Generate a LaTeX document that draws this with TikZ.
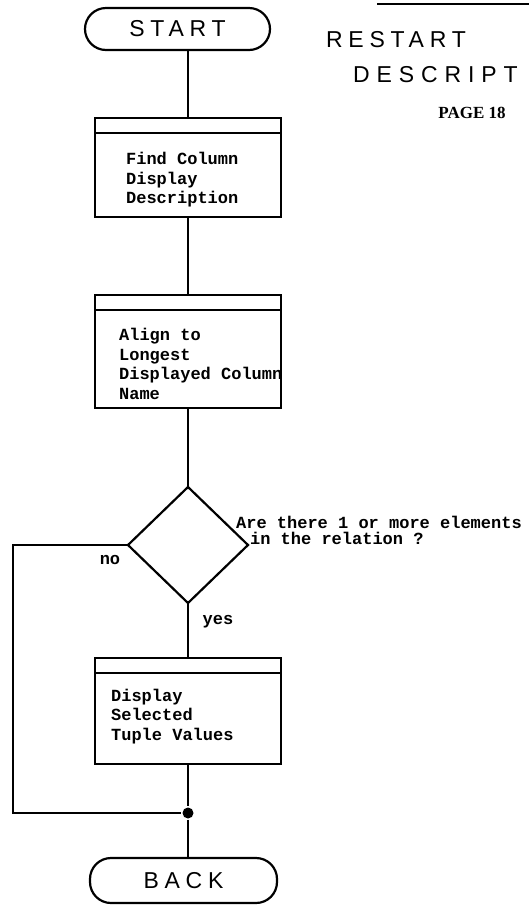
\documentclass[tikz,border=0pt]{standalone}
\usepackage{fontspec}
\setmainfont{Liberation Serif}
\newfontfamily\letterfont{Liberation Sans}[LetterSpace=25]
\newfontfamily\typefont{Liberation Mono}
\usetikzlibrary{shapes.geometric}

\begin{document}
\begin{tikzpicture}[x=1pt, y=-1pt, line width=2.2pt,
  term/.style={draw, rounded corners=21pt, minimum width=185pt,
               minimum height=42pt, inner sep=0pt, outer sep=0pt,
               font=\letterfont\fontsize{23}{25}\selectfont},
  proc/.style={draw, minimum width=186pt, inner sep=0pt, outer sep=0pt},
  txt/.style={align=left, inner sep=0pt,
              font=\typefont\bfseries\fontsize{17}{19.5}\selectfont},
  ask/.style={draw, diamond, minimum width=120pt, minimum height=116pt,
              inner sep=0pt, outer sep=0pt},
  dot/.style={circle, fill, inner sep=0pt, minimum size=11pt}]
\useasboundingbox (0,0) rectangle (529,906);
% --- page heading ---
\draw (377,4) -- (529,4);
\node[anchor=west, inner sep=0pt, font=\letterfont\fontsize{23}{25}\selectfont]
  (title1) at (325,40) {RESTART};
\node[anchor=west, inner sep=0pt,
      font=\letterfont\fontsize{23}{25}\selectfont\addfontfeatures{LetterSpace=30}]
  (title2) at (352,75) {DESCRIPT};
\node[inner sep=0pt, font=\bfseries\fontsize{17}{20}\selectfont]
  (page) at (472,113) {PAGE 18};
% --- terminals ---
\node[term] (start) at (177.5,29) {START};
\node[term, minimum width=187pt, minimum height=45pt] (back) at (183.5,880.5) {BACK};
% --- process boxes ---
\node[proc, minimum height=84pt] (find) at (188,175) {};
\node[proc, minimum height=98pt] (align) at (188,359) {};
\node[proc, minimum height=91pt] (show) at (188,718.5) {};
\foreach \n in {find,align,show}
  \draw (\n.north west) rectangle ([yshift=15pt]\n.north east);
\node[txt, anchor=west] (findtxt) at (125,180) {Find Column\\Display\\Description};
\node[txt, anchor=west] (aligntxt) at (118,364)
  {Align to\\Longest\\Displayed Column\\Name};
\node[txt, anchor=west] (showtxt) at (110,716.5) {Display\\Selected\\Tuple Values};
% --- decision ---
\node[ask] (query) at (188,545) {};
\node[txt, anchor=west, font=\typefont\bfseries\fontsize{17}{15.5}\selectfont]
  (querytxt) at (235,530.5)
  {Are there 1 or more elements\\\hspace*{14pt}in the relation ?};
\node[txt] (nolbl) at (110,560) {no};
\node[txt] (yeslbl) at (218,622) {yes};
\node[dot] (join) at (188,813) {};
% --- connectors ---
\draw (start.south -| find.north) -- ([yshift=15pt]find.north);
\draw (find.south) -- ([yshift=15pt]align.north);
\draw (align.south) -- (query.north);
\draw (query.south) -- ([yshift=15pt]show.north);
\draw (query.west) -- ++(-115,0) |- (join);
\draw (show.south) -- (join) -- (join |- back.north);
\end{tikzpicture}
\end{document}
